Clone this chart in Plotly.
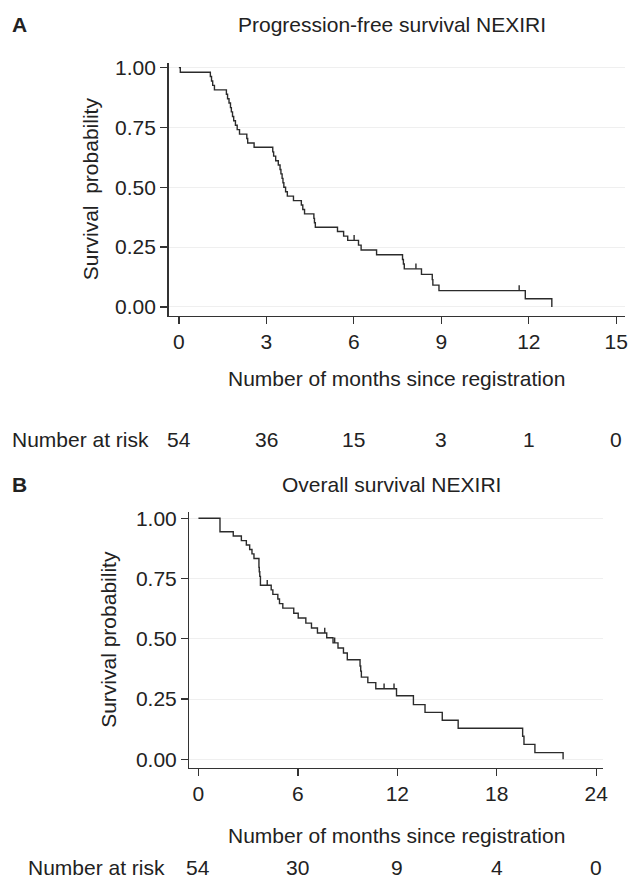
import plotly.graph_objects as go

# ---------------- data ----------------
pfs_time = [0, 0.05, 1.08, 1.12, 1.16, 1.22, 1.63, 1.67, 1.72, 1.77, 1.80, 1.84, 1.88, 1.94, 2.00, 2.08,
            2.33, 2.36, 2.58, 3.22, 3.25, 3.32, 3.41, 3.47, 3.50, 3.54, 3.57, 3.60, 3.66, 3.72,
            3.93, 4.20, 4.25, 4.31, 4.63, 4.65, 4.68, 5.44, 5.65, 5.79, 6.16, 6.25, 6.78,
            7.67, 7.70, 7.73, 8.32, 8.69, 8.71, 8.92, 11.88, 12.79]
pfs_surv = [1.000, 0.981, 0.963, 0.944, 0.926, 0.907, 0.889, 0.870, 0.852, 0.833, 0.815, 0.796, 0.778, 0.759, 0.741, 0.722,
            0.704, 0.685, 0.667, 0.648, 0.630, 0.611, 0.593, 0.574, 0.556, 0.537, 0.519, 0.500, 0.481, 0.463,
            0.444, 0.426, 0.407, 0.389, 0.370, 0.352, 0.333, 0.315, 0.296, 0.278, 0.258, 0.238, 0.218,
            0.198, 0.179, 0.159, 0.136, 0.114, 0.091, 0.068, 0.034, 0.000]
pfs_cens_time = [6.01, 8.13, 11.67]
pfs_cens_surv = [0.278, 0.159, 0.068]

os_time = [0, 1.30, 2.10, 2.59, 2.89, 3.09, 3.23, 3.35, 3.65, 3.67, 3.70, 3.74, 4.39, 4.49, 4.79, 4.89, 5.09,
           5.75, 6.02, 6.48, 6.82, 7.18, 7.74, 8.12, 8.42, 8.75, 8.98, 9.75, 9.79, 9.83, 10.22, 10.70,
           11.95, 12.97, 13.67, 14.71, 15.67, 19.56, 19.64, 20.30, 22.0]
os_surv = [1.0, 0.944, 0.926, 0.907, 0.889, 0.870, 0.852, 0.833, 0.796, 0.778, 0.759, 0.722, 0.703, 0.684, 0.665, 0.646, 0.627,
           0.606, 0.586, 0.565, 0.545, 0.524, 0.504, 0.483, 0.462, 0.441, 0.413, 0.387, 0.366, 0.341, 0.318, 0.293,
           0.264, 0.227, 0.195, 0.162, 0.129, 0.096, 0.062, 0.028, 0.0]
os_cens_time = [4.15, 7.62, 8.22, 11.20, 11.80]
os_cens_surv = [0.722, 0.524, 0.483, 0.293, 0.293]

pfs_ticks = [0, 3, 6, 9, 12, 15]
pfs_at_risk = [54, 36, 15, 3, 1, 0]
os_ticks = [0, 6, 12, 18, 24]
os_at_risk = [54, 30, 9, 4, 0]
y_ticks = [0, 0.25, 0.5, 0.75, 1.0]
y_ticklabels = ["0.00", "0.25", "0.50", "0.75", "1.00"]

# ---------------- figure ----------------
W, H = 633, 879
FONT = "Liberation Sans, Arial, Helvetica, sans-serif"
FS = 21
TXT = "#222222"
LINE = "#2b2b2b"

def px(x):
    return x / W

def py(y):
    return 1 - y / H

fig = go.Figure()

fig.add_trace(go.Scatter(x=pfs_time, y=pfs_surv, mode="lines", line=dict(shape="hv", color=LINE, width=1.4),
                         xaxis="x", yaxis="y", showlegend=False, hoverinfo="skip"))
fig.add_trace(go.Scatter(x=pfs_cens_time, y=pfs_cens_surv, mode="markers", marker=dict(size=0.1, color=LINE),
                         error_y=dict(type="data", symmetric=False, array=[0.022] * len(pfs_cens_time),
                                      arrayminus=[0] * len(pfs_cens_time), width=0, thickness=1.4, color=LINE),
                         xaxis="x", yaxis="y", showlegend=False, hoverinfo="skip"))

fig.add_trace(go.Scatter(x=os_time, y=os_surv, mode="lines", line=dict(shape="hv", color=LINE, width=1.4),
                         xaxis="x2", yaxis="y2", showlegend=False, hoverinfo="skip"))
fig.add_trace(go.Scatter(x=os_cens_time, y=os_cens_surv, mode="markers", marker=dict(size=0.1, color=LINE),
                         error_y=dict(type="data", symmetric=False, array=[0.022] * len(os_cens_time),
                                      arrayminus=[0] * len(os_cens_time), width=0, thickness=1.4, color=LINE),
                         xaxis="x2", yaxis="y2", showlegend=False, hoverinfo="skip"))

axis_common = dict(showline=True, linecolor="#333333", linewidth=1.5, ticks="outside", ticklen=7,
                   tickwidth=1.3, tickcolor="#333333", mirror=False, zeroline=False,
                   tickfont=dict(family=FONT, size=FS, color=TXT))

fig.update_layout(
    width=W, height=H,
    margin=dict(l=0, r=0, t=0, b=0),
    paper_bgcolor="white", plot_bgcolor="white",
    font=dict(family=FONT, size=FS, color=TXT),
    xaxis=dict(domain=[px(170), px(630)], range=[-0.35, 15.3], tickvals=pfs_ticks, showgrid=False,
               anchor="y", **axis_common),
    yaxis=dict(domain=[py(312.3), py(56.5)], range=[-0.037, 1.02], tickvals=y_ticks, ticktext=y_ticklabels,
               showgrid=True, gridcolor="#efefef", gridwidth=1, anchor="x", **axis_common),
    xaxis2=dict(domain=[px(191), px(608)], range=[-0.54, 24.42], tickvals=os_ticks, showgrid=False,
                anchor="y2", **axis_common),
    yaxis2=dict(domain=[py(769.3), py(511)], range=[-0.034, 1.025], tickvals=y_ticks, ticktext=y_ticklabels,
                showgrid=True, gridcolor="#efefef", gridwidth=1, anchor="x2", **axis_common),
)

ann = []
def text(x, y, s, xanchor="center", bold=False, angle=0, xref="paper"):
    ann.append(dict(x=x, y=y, xref=xref, yref="paper", text=("<b>%s</b>" % s) if bold else s,
                    showarrow=False, xanchor=xanchor, yanchor="middle", textangle=angle,
                    font=dict(family=FONT, size=FS, color=TXT)))

text(px(10), py(18), "A", xanchor="left", bold=True)
text(px(395), py(18), "Progression-free survival NEXIRI")
text(px(10), py(483), "B", xanchor="left", bold=True)
text(px(395), py(483), "Overall survival NEXIRI")

text(px(92), py(184), "Survival  probability", angle=-90)
text(px(110), py(640), "Survival probability", angle=-90)

text(px(400), py(376), "Number of months since registration")
text(px(400), py(838), "Number of months since registration")

text(px(10), py(437), "Number at risk", xanchor="left")
for t, n in zip(pfs_ticks, pfs_at_risk):
    text(t, py(437), str(n), xref="x")

text(px(26), py(870), "Number at risk", xanchor="left")
for t, n in zip(os_ticks, os_at_risk):
    text(t, py(870), str(n), xref="x2")

fig.update_layout(annotations=ann)

fig.write_html("out.html",
               config={"displayModeBar": False, "staticPlot": True},
               post_script="document.body.style.margin='0';document.body.style.padding='0';"
                           "document.body.style.overflow='hidden';")
